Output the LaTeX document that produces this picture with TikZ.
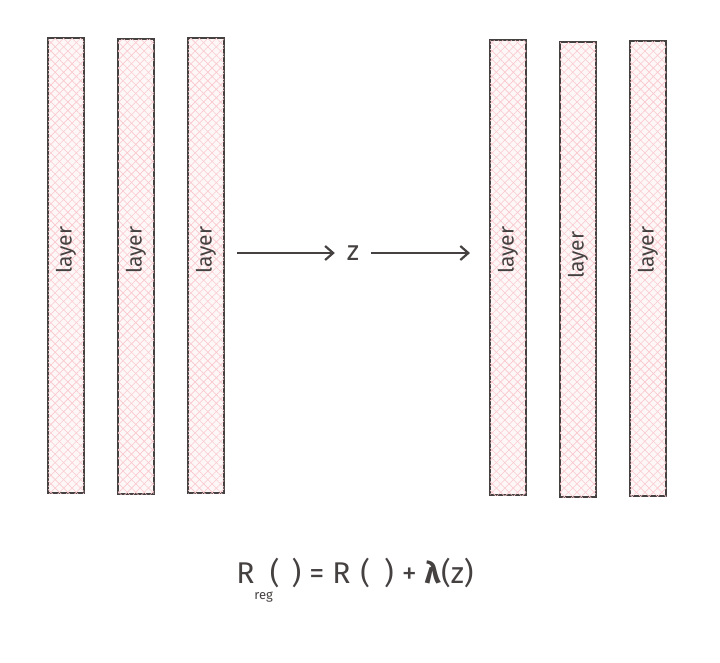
\documentclass[tikz,border=0pt]{standalone}
\usepackage{fontspec}
\setmainfont{Fira Sans}
\usetikzlibrary{patterns.meta,arrows.meta}
\definecolor{hatch}{RGB}{250,200,205}
\definecolor{edge}{RGB}{70,65,65}
\tikzset{
  layerbox/.style={draw=edge, line width=1.3pt, fill=hatch!15,
    postaction={pattern={Lines[angle=45,distance=6pt,line width=0.6pt]},pattern color=hatch},
    postaction={pattern={Lines[angle=-45,distance=6pt,line width=0.6pt]},pattern color=hatch}},
  layertxt/.style={rotate=90, font=\fontsize{21}{21}\selectfont, text=edge},
  conn/.style={draw=edge, line width=2.2pt, -{Straight Barb[length=8pt,width=14pt,line width=2.2pt]}}
}
\begin{document}
\begin{tikzpicture}[x=1pt,y=-1pt]
\useasboundingbox (0,0) rectangle (720,662);
\foreach \n/\x/\ya/\yb/\ly in {a/48/38/493/250, b/118/39/494/250, c/188/38/493/250, d/490/40/495/250, e/560/42/497/255, f/630/41/496/250}{
  \draw[layerbox] (\x,\ya) rectangle ++(36,\yb-\ya);
  \node[layertxt] (t\n) at (\x+18,\ly) {layer};
}
\coordinate (s1) at (237,253);
\node[font=\fontsize{28}{28}\selectfont, text=edge, inner sep=0pt, minimum width=36pt] (z) at (353,253) {z};
\coordinate (e2) at (470,253);
\draw[conn] (s1) -- (z.west);
\draw[conn] (z.east) -- (e2);
\node[font=\fontsize{30}{30}\selectfont, text=edge, anchor=center] (f) at (355,580)
  {R\raisebox{-1.0ex}{\fontsize{13}{13}\selectfont reg}\hspace{-3pt}(\hspace{12pt}) = R\hspace{10pt}(\hspace{14pt}) + \textbf{λ}(z)};
\end{tikzpicture}
\end{document}
